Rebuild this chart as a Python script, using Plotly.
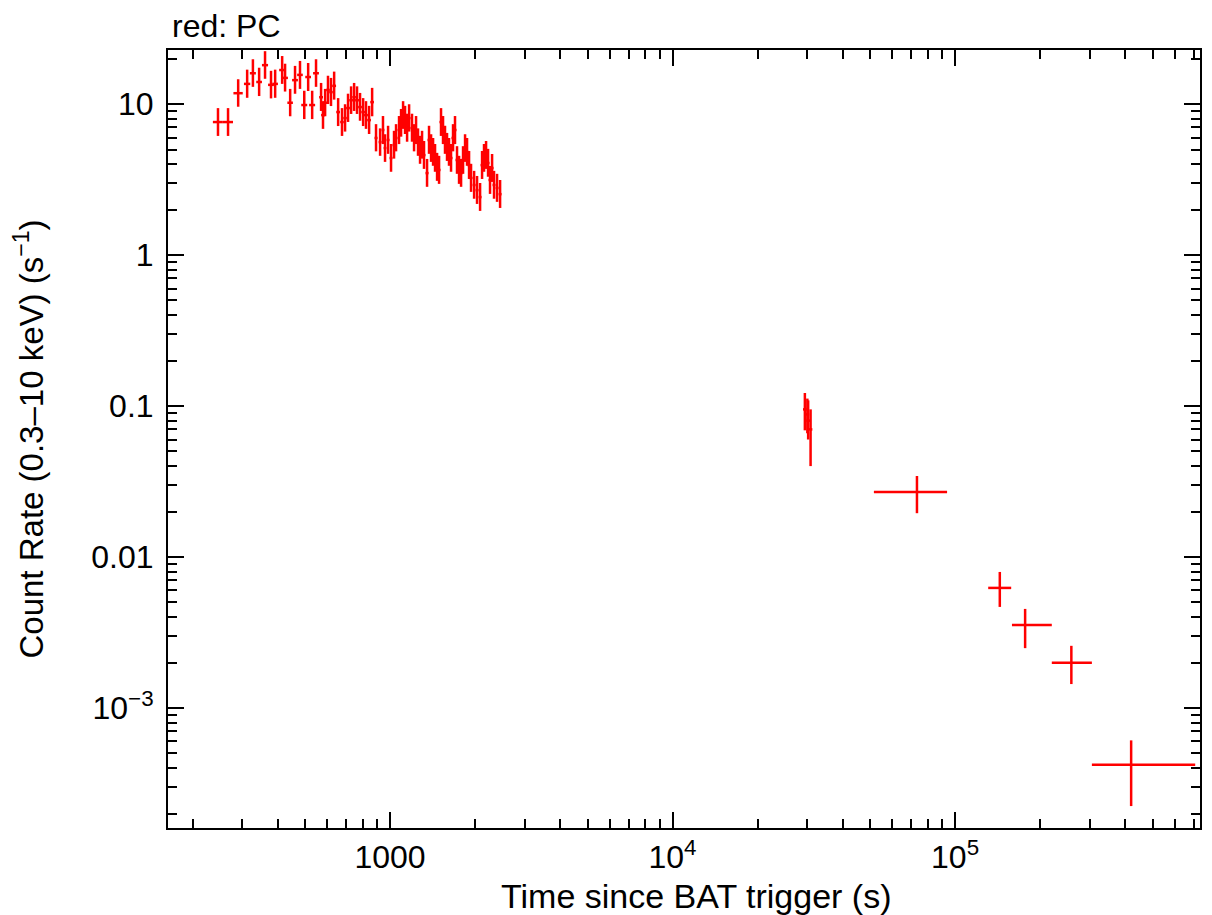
import plotly.graph_objects as go

# ---- Early PC data (dense part) ----
t_early = [246, 267, 290, 312, 327, 344, 361, 379, 392, 415, 425, 443, 461, 480, 497, 513, 530, 547,
           570, 579, 589, 603, 618, 634, 655, 676, 693, 710, 728, 746, 764, 783, 803, 822, 843, 864,
           892, 922, 944, 960, 984, 1008, 1033, 1050, 1076, 1094, 1112, 1130, 1149, 1168, 1196, 1216,
           1236, 1256, 1277, 1298, 1319, 1352, 1374, 1397, 1420, 1443, 1467, 1491, 1515, 1540, 1565,
           1591, 1617, 1644, 1671, 1698, 1726, 1755, 1784, 1813, 1843, 1873, 1904, 1935, 1984, 2032,
           2083, 2117, 2151, 2187, 2223, 2259, 2297, 2334, 2392, 2452]
t_early_err = [10, 11, 11, 8, 8, 8, 9, 9, 9, 10, 10, 10, 11, 11, 12, 12, 13, 13,
               9, 9, 9, 9, 9, 10, 10, 10, 10, 11, 11, 11, 12, 12, 12, 13, 13, 13,
               11, 11, 11, 11, 12, 12, 13, 13, 13, 13, 13, 14, 14, 14, 15, 15,
               15, 15, 16, 16, 16, 17, 17, 17, 17, 18, 18, 18, 19, 19, 19,
               20, 20, 20, 21, 21, 21, 22, 22, 22, 23, 23, 23, 24, 24, 25,
               25, 26, 26, 27, 27, 28, 28, 28, 29, 30]
rate_early = [7.60, 7.60, 11.8, 13.6, 16.0, 14.0, 18.1, 13.4, 13.6, 16.8, 14.9, 10.2, 14.4, 15.6, 9.85, 15.1, 9.85, 16.0,
              11.1, 8.45, 10.2, 12.4, 12.0, 13.2, 8.85, 7.60, 8.07, 9.41, 10.6, 11.1, 10.6, 9.55, 8.85, 8.45, 7.83, 10.3,
              5.96, 5.60, 6.73, 5.11, 5.78, 4.39, 5.35, 5.96, 6.73, 7.48, 8.45, 7.83, 6.93, 8.07, 6.93, 5.96,
              6.73, 5.60, 4.96, 5.35, 4.59, 3.49, 5.78, 5.11, 4.81, 4.39, 3.83, 3.66, 7.60, 6.73, 5.78,
              5.19, 4.81, 4.39, 5.96, 6.73, 4.26, 3.66, 3.49, 4.26, 5.11, 4.81, 3.94, 3.24, 2.91, 2.69,
              2.42, 3.94, 4.39, 4.59, 4.07, 3.14, 3.77, 2.91, 2.78, 2.53]
rate_early_up = [1.8, 1.8, 2.8, 3.3, 3.8, 3.4, 4.3, 3.2, 3.3, 4.0, 3.6, 2.4, 3.5, 3.7, 2.4, 3.6, 2.4, 3.8,
                 2.7, 2.0, 2.4, 3.0, 2.9, 3.2, 2.1, 1.8, 1.9, 2.3, 2.5, 2.7, 2.5, 2.3, 2.1, 2.0, 1.9, 2.5,
                 1.4, 1.3, 1.6, 1.2, 1.4, 1.05, 1.3, 1.4, 1.6, 1.8, 2.0, 1.9, 1.7, 1.9, 1.7, 1.4,
                 1.6, 1.3, 1.2, 1.3, 1.1, 0.84, 1.4, 1.2, 1.15, 1.05, 0.92, 0.88, 1.8, 1.6, 1.4,
                 1.25, 1.15, 1.05, 1.4, 1.6, 1.0, 0.88, 0.84, 1.0, 1.2, 1.15, 0.95, 0.78, 0.70, 0.65,
                 0.58, 0.95, 1.05, 1.1, 0.98, 0.75, 0.90, 0.70, 0.67, 0.61]
rate_early_dn = [1.45, 1.45, 2.2, 2.6, 3.0, 2.7, 3.4, 2.5, 2.6, 3.2, 2.8, 1.9, 2.7, 3.0, 1.9, 2.9, 1.9, 3.0,
                 2.1, 1.6, 1.9, 2.4, 2.3, 2.5, 1.7, 1.45, 1.5, 1.8, 2.0, 2.1, 2.0, 1.8, 1.7, 1.6, 1.5, 2.0,
                 1.1, 1.06, 1.3, 0.97, 1.1, 0.83, 1.0, 1.1, 1.3, 1.4, 1.6, 1.5, 1.3, 1.5, 1.3, 1.1,
                 1.3, 1.06, 0.94, 1.0, 0.87, 0.66, 1.1, 0.97, 0.91, 0.83, 0.73, 0.70, 1.45, 1.3, 1.1,
                 0.99, 0.91, 0.83, 1.1, 1.3, 0.81, 0.70, 0.66, 0.81, 0.97, 0.91, 0.75, 0.62, 0.55, 0.51,
                 0.46, 0.75, 0.83, 0.87, 0.77, 0.60, 0.72, 0.55, 0.53, 0.48]

# ---- Second orbit cluster ----
t_mid = [29400, 30000, 30200, 30800]
t_mid_err = [450, 450, 450, 450]
rate_mid = [0.095, 0.088, 0.080, 0.070]
rate_mid_up = [0.027, 0.024, 0.029, 0.025]
rate_mid_dn = [0.026, 0.022, 0.020, 0.030]

# ---- Late PC data ----
t_late = [73300, 144000, 177000, 258000, 420000]
t_late_lo = [21700, 13000, 18000, 38000, 115000]
t_late_hi = [20400, 14000, 43000, 47000, 288000]
rate_late = [0.0269, 0.00624, 0.00355, 0.00199, 0.00042]
rate_late_up = [0.0075, 0.00172, 0.00098, 0.00059, 0.00019]
rate_late_dn = [0.0074, 0.00157, 0.00106, 0.00055, 0.000196]

# tick labels
x_tickvals = [1000, 1e4, 1e5]
x_ticktext = ["1000", "10<sup>4</sup>", "10<sup>5</sup>"]
y_tickvals = [10, 1, 0.1, 0.01, 0.001]
y_ticktext = ["10", "1", "0.1", "0.01", "10<sup>\u22123</sup>"]

RED = "#ff0000"
FONT = "Liberation Sans, Arial, Helvetica, sans-serif"

fig = go.Figure()


def add_series(x, xm, xp, y, ym, yp):
    fig.add_trace(go.Scatter(
        x=x, y=y, mode="markers",
        marker=dict(size=1, color=RED),
        error_x=dict(type="data", array=xp, arrayminus=xm, symmetric=False,
                     color=RED, thickness=2.5, width=0),
        error_y=dict(type="data", array=yp, arrayminus=ym, symmetric=False,
                     color=RED, thickness=2.5, width=0),
        showlegend=False, hoverinfo="x+y",
    ))


add_series(t_early, t_early_err, t_early_err, rate_early, rate_early_dn, rate_early_up)
add_series(t_mid, t_mid_err, t_mid_err, rate_mid, rate_mid_dn, rate_mid_up)
add_series(t_late, t_late_lo, t_late_hi, rate_late, rate_late_dn, rate_late_up)

x_minor = [m * 10 ** e for e in range(2, 6) for m in range(2, 10)]
y_minor = [m * 10.0 ** e for e in range(-4, 2) for m in range(2, 10)]

axis_common = dict(
    type="log", showgrid=False, zeroline=False, automargin=False,
    showline=True, linecolor="black", linewidth=2, mirror="allticks",
    ticks="inside", ticklen=16, tickwidth=2, tickcolor="black",
    tickfont=dict(family=FONT, size=32, color="black"),
    tickmode="array",
)

fig.update_xaxes(
    **axis_common,
    range=[2.214, 5.867],
    tickvals=x_tickvals, ticktext=x_ticktext,
    minor=dict(tickmode="array", tickvals=x_minor, ticks="inside", ticklen=9,
               tickwidth=2, tickcolor="black", showgrid=False),
)
fig.update_yaxes(
    **axis_common,
    range=[-3.795, 1.358],
    tickvals=y_tickvals, ticktext=y_ticktext, ticklabelstandoff=6,
    minor=dict(tickmode="array", tickvals=y_minor, ticks="inside", ticklen=9,
               tickwidth=2, tickcolor="black", showgrid=False),
    title=dict(text="Count Rate (0.3\u201310 keV) (s<sup>\u22121</sup>)",
               font=dict(family=FONT, size=33, color="black"), standoff=40),
)

# x-axis title placed as an annotation just below the tick labels
fig.add_annotation(
    text="Time since BAT trigger (s)", xref="paper", yref="paper", x=0.512, y=0.0,
    xanchor="center", yanchor="top", yshift=-47, showarrow=False,
    font=dict(family=FONT, size=34, color="black"),
)

fig.add_annotation(
    text="red: PC", xref="paper", yref="paper", x=0.002, y=1.0,
    xanchor="left", yanchor="bottom", yshift=4, showarrow=False,
    font=dict(family=FONT, size=32, color="black"),
)

# page body adds an 8px offset; size figure to fill the 1212x915 window
fig.update_layout(
    width=1204, height=907,
    margin=dict(l=160, r=12, t=42, b=87),
    paper_bgcolor="white", plot_bgcolor="white",
    font=dict(family=FONT, color="black"),
)

fig.write_html("out.html")
